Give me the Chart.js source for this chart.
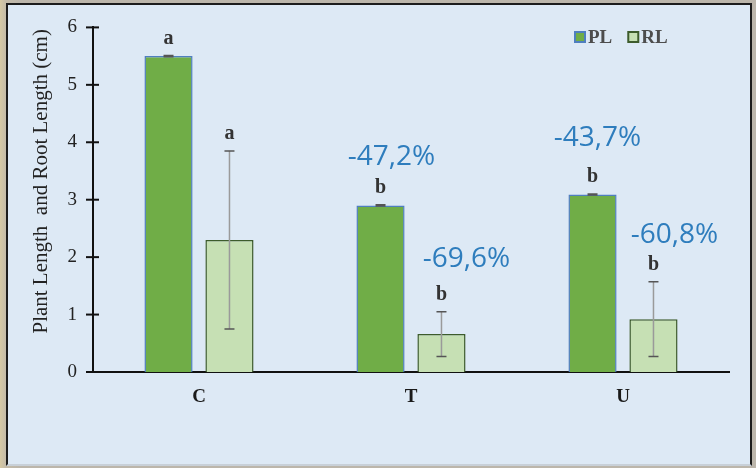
<!DOCTYPE html>
<html>
<head>
<meta charset="utf-8">
<script src="https://cdn.jsdelivr.net/npm/chart.js@4.4.1/dist/chart.umd.min.js"></script>
<style>
html, body { margin: 0; padding: 0; background: #bcb6ab; }
#wrap { position: relative; width: 756px; height: 468px; overflow: hidden;
        background: linear-gradient(90deg, #d6c9a4 0px, #c4bba9 6px, #bcb6ab 20px); }
#panel { position: absolute; left: 6px; top: 3px; width: 742px; height: 459px;
         background: #dde9f5; border: 2px solid #1c1c1c; border-bottom: 2px solid #c8d0d8; }
canvas { position: absolute; left: 0; top: 0; }
</style>
</head>
<body>
<div id="wrap">
  <div id="panel"></div>
  <canvas id="plantChart" width="756" height="468"></canvas>
</div>
<script>
// Data
const categories = ["C", "T", "U"];
const plValues = [5.5, 2.9, 3.09];
const rlValues = [2.3, 0.66, 0.92];
const plErrors = [0.01, 0.01, 0.01];
const rlErrors = [1.55, 0.39, 0.65];
const plLetters = ["a", "b", "b"];
const rlLetters = ["a", "b", "b"];
const plChanges = ["", "-47,2%", "-43,7%"];
const rlChanges = ["", "-69,6%", "-60,8%"];
const yTicks = [0, 1, 2, 3, 4, 5, 6];

const SERIF = '"Liberation Serif", "Times New Roman", serif';

// where the % labels sit relative to the top of each bar (dx, height above)
const changeShift = [
    [[0, 0], [11, 48], [5, 56]],
    [[0, 0], [25, 53], [21, 47]]
];

// error bars, letters, % labels, crossing y ticks and the legend
const extrasPlugin = {
    id: "extras",
    afterDatasetsDraw(chart) {
        const ctx = chart.ctx;
        const y = chart.scales.y;
        const errs = [plErrors, rlErrors];
        const letters = [plLetters, rlLetters];
        const changes = [plChanges, rlChanges];

        chart.data.datasets.forEach((ds, di) => {
            const meta = chart.getDatasetMeta(di);
            meta.data.forEach((bar, i) => {
                const v = ds.data[i];
                const e = errs[di][i];
                const yHi = y.getPixelForValue(v + e);
                const yLo = y.getPixelForValue(v - e);
                const x = bar.x;

                // stem
                ctx.save();
                ctx.strokeStyle = "#9a9a9a";
                ctx.lineWidth = 1.5;
                ctx.beginPath();
                ctx.moveTo(x, yHi);
                ctx.lineTo(x, yLo);
                ctx.stroke();
                // caps
                ctx.strokeStyle = "#555";
                ctx.lineWidth = 1.5;
                ctx.beginPath();
                ctx.moveTo(x - 5, yHi); ctx.lineTo(x + 5, yHi);
                ctx.moveTo(x - 5, yLo); ctx.lineTo(x + 5, yLo);
                ctx.stroke();

                const top = Math.min(yHi, bar.y);
                ctx.fillStyle = "#333";
                ctx.font = "bold 20px " + SERIF;
                ctx.textAlign = "center";
                ctx.textBaseline = "middle";
                ctx.fillText(letters[di][i], x, top - 17);

                if (changes[di][i]) {
                    const s = changeShift[di][i];
                    ctx.fillStyle = "#2e7dbd";
                    ctx.font = '28px "Open Sans", sans-serif';
                    ctx.fillText(changes[di][i], x + s[0], top - s[1]);
                }
                ctx.restore();
            });
        });
    },
    afterDraw(chart) {
        const ctx = chart.ctx;
        const y = chart.scales.y;
        const area = chart.chartArea;

        // tick marks crossing the y axis
        ctx.save();
        ctx.strokeStyle = "#111";
        ctx.lineWidth = 2;
        y.ticks.forEach(t => {
            const py = y.getPixelForValue(t.value);
            ctx.beginPath();
            ctx.moveTo(area.left - 7, py);
            ctx.lineTo(area.left + 6, py);
            ctx.stroke();
        });

        // legend
        const ds = chart.data.datasets;
        let lx = area.right - 154;
        const ly = 32;
        ctx.font = "bold 19px " + SERIF;
        ctx.textBaseline = "middle";
        ctx.textAlign = "left";
        ds.forEach(d => {
            ctx.fillStyle = d.backgroundColor;
            ctx.fillRect(lx, ly, 10, 10);
            ctx.strokeStyle = d.borderColor;
            ctx.lineWidth = 2;
            ctx.strokeRect(lx, ly, 10, 10);
            ctx.fillStyle = "#4d4d4d";
            ctx.fillText(d.label, lx + 13, ly + 6);
            lx += 13 + ctx.measureText(d.label).width + 16;
        });
        ctx.restore();
    }
};

const ctx = document.getElementById("plantChart").getContext("2d");
new Chart(ctx, {
    type: "bar",
    data: {
        labels: categories,
        datasets: [{
            label: "PL",
            data: plValues,
            backgroundColor: "#70ad47",
            borderColor: "#4f7fbf",
            borderWidth: 1.5,
            categoryPercentage: 0.575,
            barPercentage: 0.79
        }, {
            label: "RL",
            data: rlValues,
            backgroundColor: "#c6e0b4",
            borderColor: "#3d5c2c",
            borderWidth: 1.5,
            categoryPercentage: 0.575,
            barPercentage: 0.79
        }]
    },
    options: {
        responsive: false,
        animation: false,
        layout: { padding: { left: 8, top: 26, right: 27, bottom: 0 } },
        plugins: {
            legend: { display: false },
            tooltip: { enabled: false }
        },
        scales: {
            x: {
                afterFit: s => { s.height = 96; },
                grid: { display: false, drawTicks: false },
                border: { color: "#111", width: 2 },
                ticks: {
                    padding: 14,
                    color: "#1a1a1a",
                    font: { family: SERIF, size: 19, weight: "bold" }
                }
            },
            y: {
                min: 0,
                max: 6,
                afterFit: s => { s.width = 85; },
                afterBuildTicks: s => { s.ticks = yTicks.map(v => ({ value: v })); },
                grid: { display: false, drawTicks: false },
                border: { color: "#111", width: 2 },
                ticks: {
                    padding: 16,
                    color: "#222",
                    font: { family: SERIF, size: 19 }
                },
                title: {
                    display: true,
                    // leading spaces nudge the title up a little, as in the reference
                    text: "       Plant Length  and Root Length (cm)",
                    color: "#222",
                    padding: { top: 21, bottom: 0 },
                    font: { family: SERIF, size: 21 }
                }
            }
        }
    },
    plugins: [extrasPlugin]
});
</script>
</body>
</html>
